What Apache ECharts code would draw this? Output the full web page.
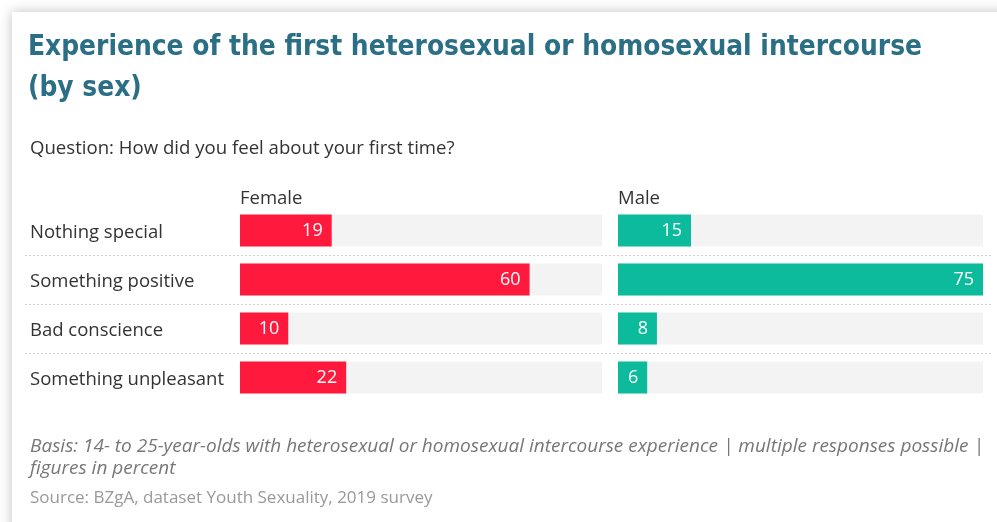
<!DOCTYPE html>
<html><head><meta charset="utf-8">
<script src="https://cdn.jsdelivr.net/npm/echarts@6/dist/echarts.min.js"></script>
<style>html,body{margin:0;padding:0;background:#fff}#c{width:997px;height:522px}</style>
</head><body><div id="c"></div>
<script>
const categories = ['Nothing special', 'Something positive', 'Bad conscience', 'Something unpleasant'];
const femaleValues = [19, 60, 10, 22];
const maleValues = [15, 75, 8, 6];
const groupNames = ['Female', 'Male'];
const axisMax = 75;

const chart = echarts.init(document.getElementById('c'), null, {renderer: 'canvas'});
const bodyFont = '"Open Sans", Lato, sans-serif';
const gridTop = 206, gridHeight = 196;

const valueAxis = (gi) => ({type: 'value', gridIndex: gi, min: 0, max: axisMax, show: false});
const catAxis = (gi, showLabels) => ({
  type: 'category', gridIndex: gi, data: categories, inverse: true,
  axisLine: {show: false}, axisTick: {show: false},
  axisLabel: showLabels ? {show: true, align: 'left', margin: 210, formatter: '{a|{value}}',
    rich: {a: {fontSize: 18.5, color: '#333', fontFamily: bodyFont, padding: [5, 0, 0, 0]}}} : {show: false},
  splitLine: {show: false}
});
const barSeries = (gi, data, color) => ({
  type: 'bar', xAxisIndex: gi, yAxisIndex: gi, data: data, barWidth: 32,
  itemStyle: {color: color},
  showBackground: true, backgroundStyle: {color: '#f3f3f3'},
  label: {show: true, position: 'insideRight', distance: 9, color: '#fff', fontSize: 18, fontFamily: bodyFont},
  silent: true
});
const txt = (extra) => Object.assign({fontFamily: bodyFont, fontWeight: 'normal', fontSize: 17, color: '#333'}, extra);

chart.setOption({
  animation: false,
  backgroundColor: '#fff',
  graphic: [{type: 'rect', z: -10, shape: {x: 12, y: 12, width: 1000, height: 530},
    style: {fill: '#fff', shadowBlur: 12, shadowColor: 'rgba(0,0,0,0.25)'}}],
  title: [
    {text: 'Experience of the first heterosexual or homosexual intercourse\n(by sex)', left: 28, top: 27, padding: 0,
      textStyle: {fontFamily: '"DejaVu Sans Condensed", "DejaVu Sans", sans-serif', fontWeight: 'bold', fontSize: 27.8, color: '#2b6f87', lineHeight: 41}},
    {text: 'Question: How did you feel about your first time?', left: 30, top: 139, padding: 0,
      textStyle: txt({fontSize: 18.6})},
    {text: groupNames[0], left: 240, top: 189, padding: 0, textStyle: txt({fontSize: 18.5})},
    {text: groupNames[1], left: 618, top: 189, padding: 0, textStyle: txt({fontSize: 18.5})},
    {text: 'Basis: 14- to 25-year-olds with heterosexual or homosexual intercourse experience | multiple responses possible |\nfigures in percent', left: 30, top: 436, padding: 0,
      textStyle: txt({fontStyle: 'italic', fontSize: 19, color: '#777', lineHeight: 22})},
    {text: 'Source: BZgA, dataset Youth Sexuality, 2019 survey', left: 30, top: 490, padding: 0,
      textStyle: txt({fontSize: 17, color: '#999'})}
  ],
  grid: [
    {left: 240, width: 362, top: gridTop, height: gridHeight},
    {left: 618, width: 365, top: gridTop, height: gridHeight},
    {left: 25, right: 6, top: gridTop, height: gridHeight}
  ],
  xAxis: [valueAxis(0), valueAxis(1), valueAxis(2)],
  yAxis: [catAxis(0, true), catAxis(1, false), Object.assign(catAxis(2, false), {
    splitLine: {show: true, showMinLine: false, showMaxLine: false, lineStyle: {color: '#cfcfcf', type: [2, 2], width: 1}}
  })],
  series: [barSeries(0, femaleValues, '#ff1a3d'), barSeries(1, maleValues, '#0bbb9c')]
});
</script></body></html>
